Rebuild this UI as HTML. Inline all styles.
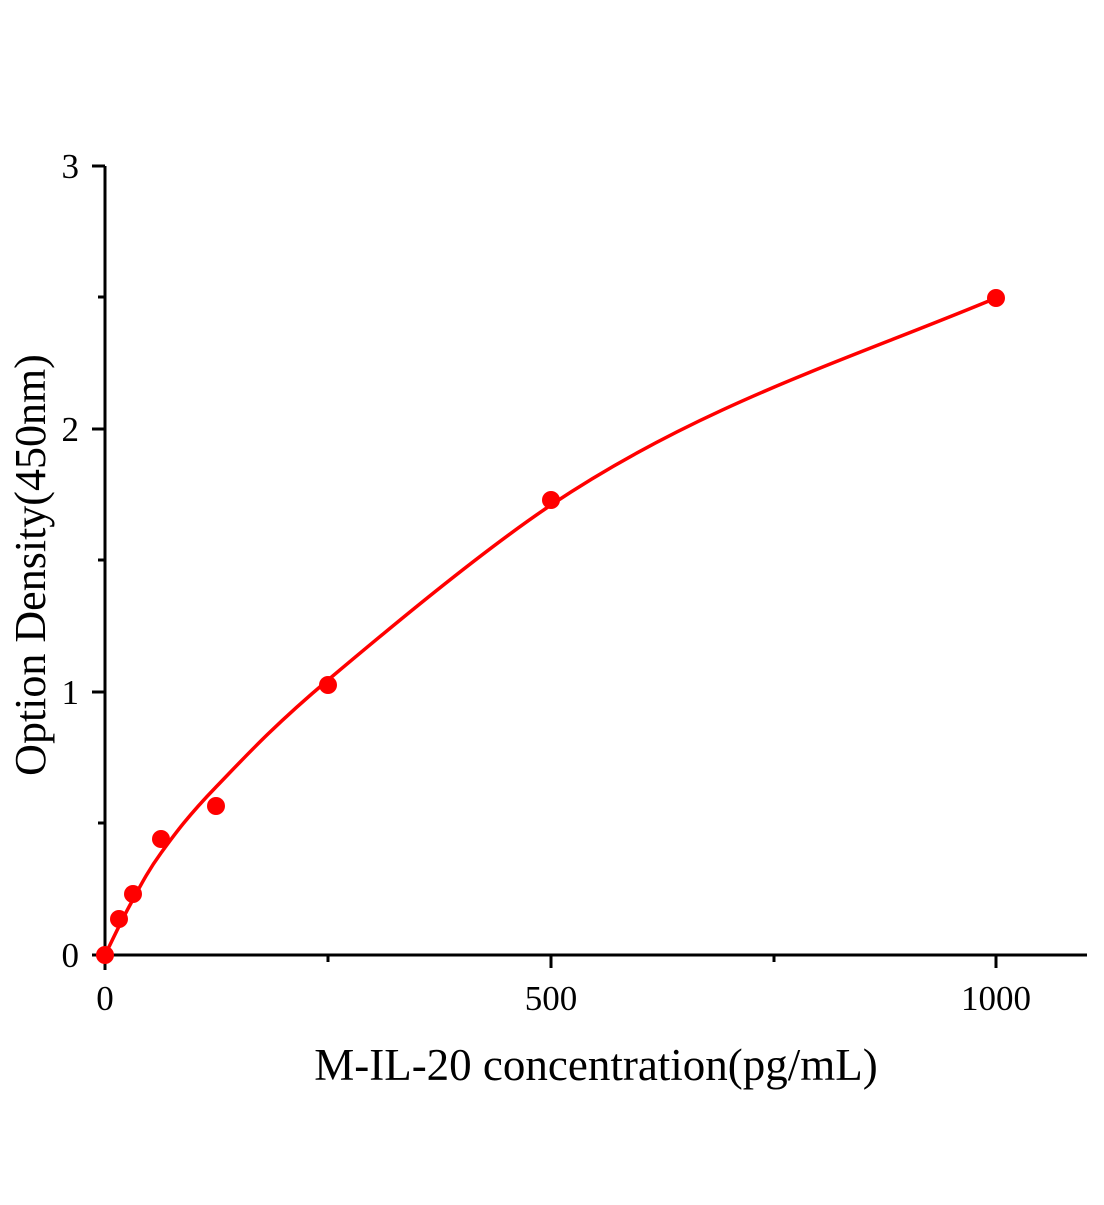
<!DOCTYPE html>
<html><head><style>body{margin:0;background:#fff}text{font-family:"Liberation Serif",serif}</style></head><body>
<svg width="1104" height="1200" xmlns="http://www.w3.org/2000/svg">
<rect width="1104" height="1200" fill="#fff"/>
<g stroke="#000" stroke-width="3" fill="none">
<line x1="105" y1="166" x2="105" y2="970"/>
<line x1="92" y1="955" x2="1087" y2="955"/>
<line x1="92" y1="692" x2="105" y2="692"/>
<line x1="92" y1="429" x2="105" y2="429"/>
<line x1="92" y1="166" x2="105" y2="166"/>
<line x1="98" y1="823" x2="105" y2="823"/>
<line x1="98" y1="560" x2="105" y2="560"/>
<line x1="98" y1="297" x2="105" y2="297"/>
<line x1="551" y1="955" x2="551" y2="968"/>
<line x1="996" y1="955" x2="996" y2="968"/>
<line x1="328" y1="955" x2="328" y2="962"/>
<line x1="774" y1="955" x2="774" y2="962"/>
</g>
<g style="font-size:35px" text-anchor="end">
<text x="79" y="967">0</text><text x="79" y="704">1</text><text x="79" y="441">2</text><text x="79" y="178">3</text>
</g>
<g style="font-size:35px" text-anchor="middle">
<text x="105" y="1010">0</text><text x="551" y="1010">500</text><text x="996" y="1010">1000</text>
</g>
<text x="596" y="1080" style="font-size:45px" text-anchor="middle">M-IL-20 concentration(pg/mL)</text>
<text transform="translate(45,565) rotate(-90)" style="font-size:44px" text-anchor="middle">Option Density(450nm)</text>
<path fill="none" stroke="#f00" stroke-width="3.5" d="M105,955 C109.2,946.7 120.7,922 130,905 C139.3,888 146.7,872.7 161,853 C175.3,833.3 188.2,815.8 216,787 C243.8,758.2 272.2,727 328,680 C383.8,633 479,553.3 551,505 C700,405 850,359 996,298"/>
<g fill="#f00">
<circle cx="105" cy="955" r="9"/><circle cx="119" cy="919" r="9"/><circle cx="133" cy="894" r="9"/>
<circle cx="161" cy="839" r="9"/><circle cx="216" cy="806" r="9"/><circle cx="328" cy="685" r="9"/>
<circle cx="551" cy="500" r="9"/><circle cx="996" cy="298" r="9"/>
</g>
</svg>
</body></html>
